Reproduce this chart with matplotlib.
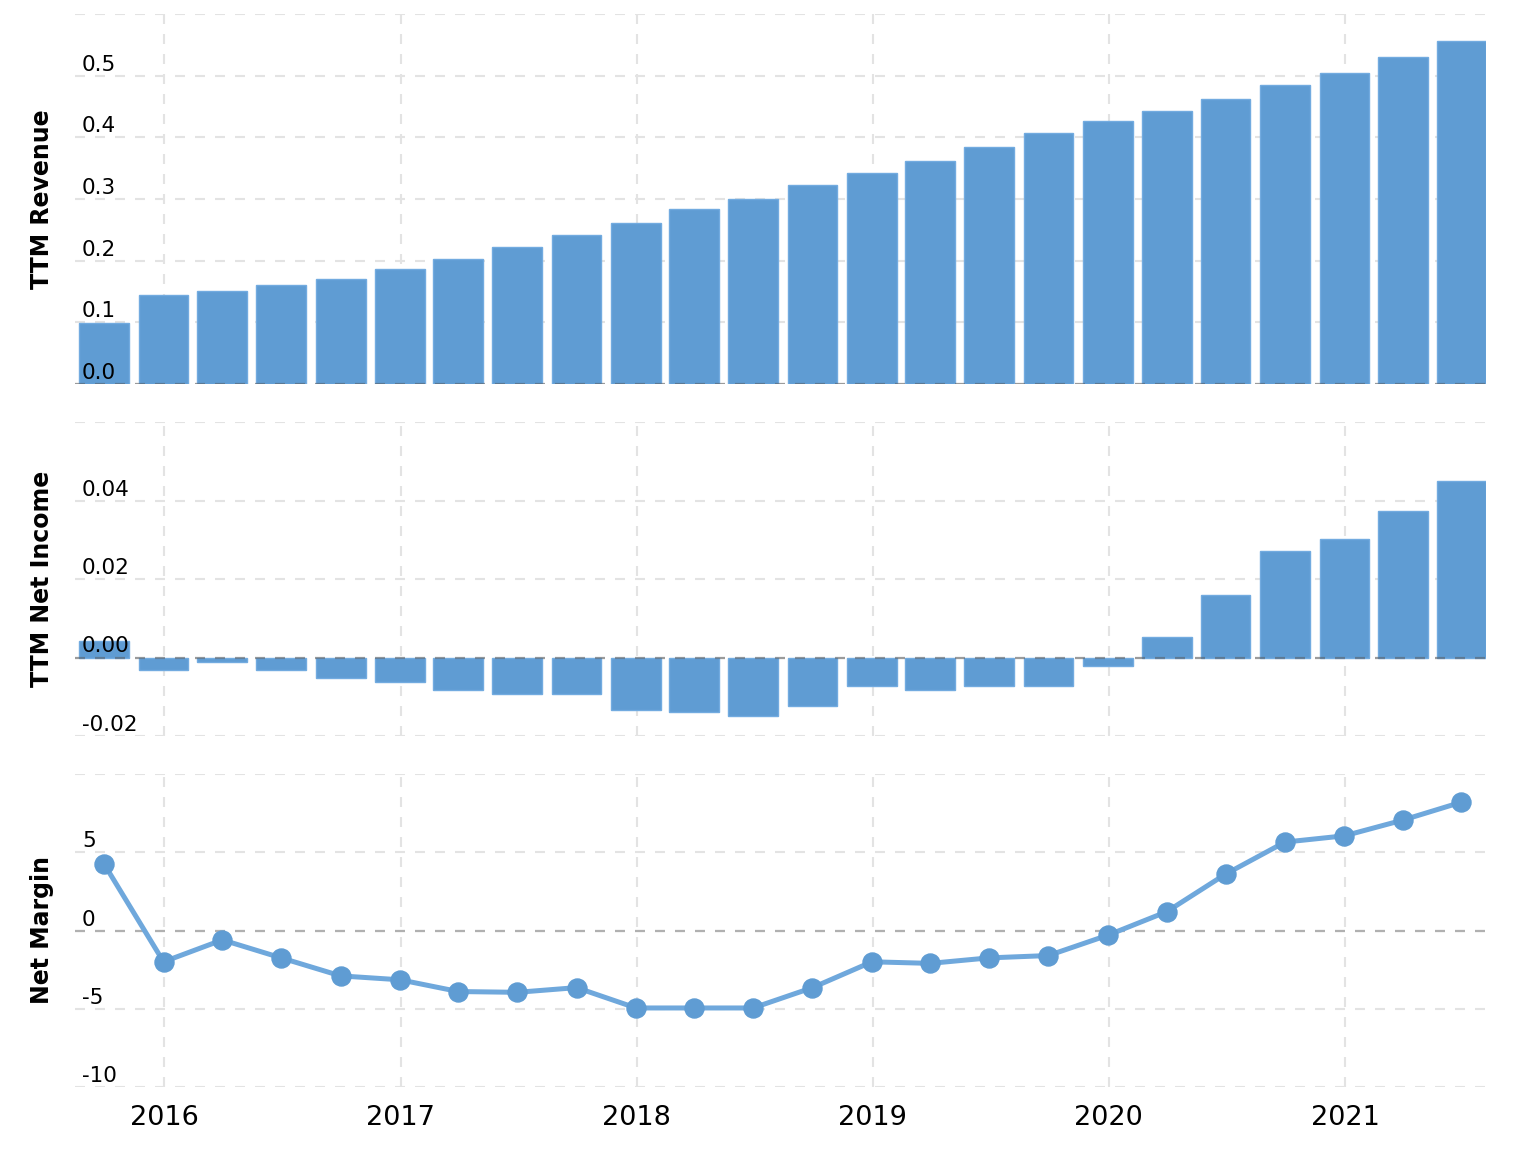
import matplotlib
matplotlib.use("Agg")
import matplotlib.pyplot as plt
import matplotlib.dates as mdates
import numpy as np
import pandas as pd

# ---- data ----
quarters = ["2015-09-30", "2015-12-31", "2016-03-31", "2016-06-30", "2016-09-30", "2016-12-31",
            "2017-03-31", "2017-06-30", "2017-09-30", "2017-12-31", "2018-03-31", "2018-06-30",
            "2018-09-30", "2018-12-31", "2019-03-31", "2019-06-30", "2019-09-30", "2019-12-31",
            "2020-03-31", "2020-06-30", "2020-09-30", "2020-12-31", "2021-03-31", "2021-06-30"]
ttm_revenue = [0.099, 0.144, 0.151, 0.161, 0.170, 0.186, 0.203, 0.222, 0.242, 0.261, 0.284, 0.300,
               0.323, 0.342, 0.362, 0.384, 0.407, 0.427, 0.443, 0.462, 0.485, 0.504, 0.530, 0.556]
ttm_net_income = [0.0043, -0.0032, -0.0012, -0.0032, -0.0053, -0.0063, -0.0083, -0.0094, -0.0094,
                  -0.0133, -0.0139, -0.0150, -0.0124, -0.0072, -0.0083, -0.0072, -0.0072, -0.0022,
                  0.0053, 0.0160, 0.0272, 0.0303, 0.0374, 0.0450]
net_margin = [4.25, -2.0, -0.6, -1.75, -2.9, -3.15, -3.9, -3.95, -3.65, -4.95, -4.95, -4.95,
              -3.65, -2.0, -2.1, -1.75, -1.6, -0.3, 1.2, 3.6, 5.65, 6.05, 7.05, 8.2]

rev_ticks = [0.0, 0.1, 0.2, 0.3, 0.4, 0.5, 0.6]
rev_labels = ["0.0", "0.1", "0.2", "0.3", "0.4", "0.5", ""]
ni_ticks = [-0.02, 0.0, 0.02, 0.04, 0.06]
ni_labels = ["-0.02", "0.00", "0.02", "0.04", ""]
nm_ticks = [-10, -5, 0, 5, 10]
nm_labels = ["-10", "-5", "0", "5", ""]
panel_titles = ["TTM Revenue", "TTM Net Income", "Net Margin"]

dates = pd.to_datetime(quarters)
x = mdates.date2num(dates)

plt.rcParams["font.family"] = ["DejaVu Sans"]
plt.rcParams["lines.scale_dashes"] = False

W, H = 1514, 1161
fig = plt.figure(figsize=(W / 100, H / 100), dpi=100)

left = 75 / W
width = (1486 - 75) / W
def rect(top_px, bot_px):
    return [left, 1 - bot_px / H, width, (bot_px - top_px) / H]

ax1 = fig.add_axes(rect(14, 384))
ax2 = fig.add_axes(rect(422, 736))
ax3 = fig.add_axes(rect(774, 1087))

bar_color = "#5f9cd3"
edge_color = "#72abe0"
line_color = "#6fa8dc"
grid_color = "#e3e3e3"
dash = (0, (7.2, 7.2))

xmin = mdates.date2num(pd.Timestamp("2015-08-16"))
xmax = mdates.date2num(pd.Timestamp("2021-08-07"))
bar_w = 77  # days

def style(ax, ticks, labels, ylim):
    ax.set_xlim(xmin, xmax)
    ax.set_ylim(*ylim)
    for s in ax.spines.values():
        s.set_visible(False)
    ax.set_yticks(ticks)
    ax.tick_params(axis="y", length=0, labelleft=False)
    ax.xaxis.set_major_locator(mdates.YearLocator())
    ax.xaxis.set_major_formatter(mdates.DateFormatter("%Y"))
    ax.tick_params(axis="x", length=0, labelbottom=False)
    ax.grid(True, color=grid_color, linestyle=dash, linewidth=1.5, zorder=0)
    ax.set_axisbelow(True)
    for t, lab in zip(ticks, labels):
        if lab:
            ax.annotate(lab, xy=(0, t), xycoords=("axes fraction", "data"),
                        xytext=(5, 3.6), textcoords="offset points",
                        ha="left", va="baseline", fontsize=15.5, color="black", zorder=10)

style(ax1, rev_ticks, rev_labels, (0, 0.6))
style(ax2, ni_ticks, ni_labels, (-0.02, 0.06))
style(ax3, nm_ticks, nm_labels, (-10, 10))

ax1.bar(x, ttm_revenue, width=bar_w, color=bar_color, edgecolor=edge_color, linewidth=1, zorder=2)
ax2.bar(x, ttm_net_income, width=bar_w, color=bar_color, edgecolor=edge_color, linewidth=1, zorder=2)

for ax in (ax1, ax2):
    ax.axhline(0, color="#555555", alpha=0.5, linestyle=dash, linewidth=1.6, zorder=3)
ax3.axhline(0, color="#b0b0b0", linestyle=dash, linewidth=1.6, zorder=1.5)

ax3.plot(x, net_margin, color=line_color, linewidth=3.6, zorder=3)
ax3.plot(x, net_margin, linestyle="none", marker="o", markersize=13.7,
         color=bar_color, zorder=4)

ax3.tick_params(axis="x", labelbottom=True, labelsize=19.5, pad=13)

for ax, title in zip((ax1, ax2, ax3), panel_titles):
    pos = ax.get_position()
    fig.text(42 / W, (pos.y0 + pos.y1) / 2, title, rotation=90, ha="center", va="center",
             fontsize=17, fontweight="bold")

fig.savefig("out.png", dpi=100)
